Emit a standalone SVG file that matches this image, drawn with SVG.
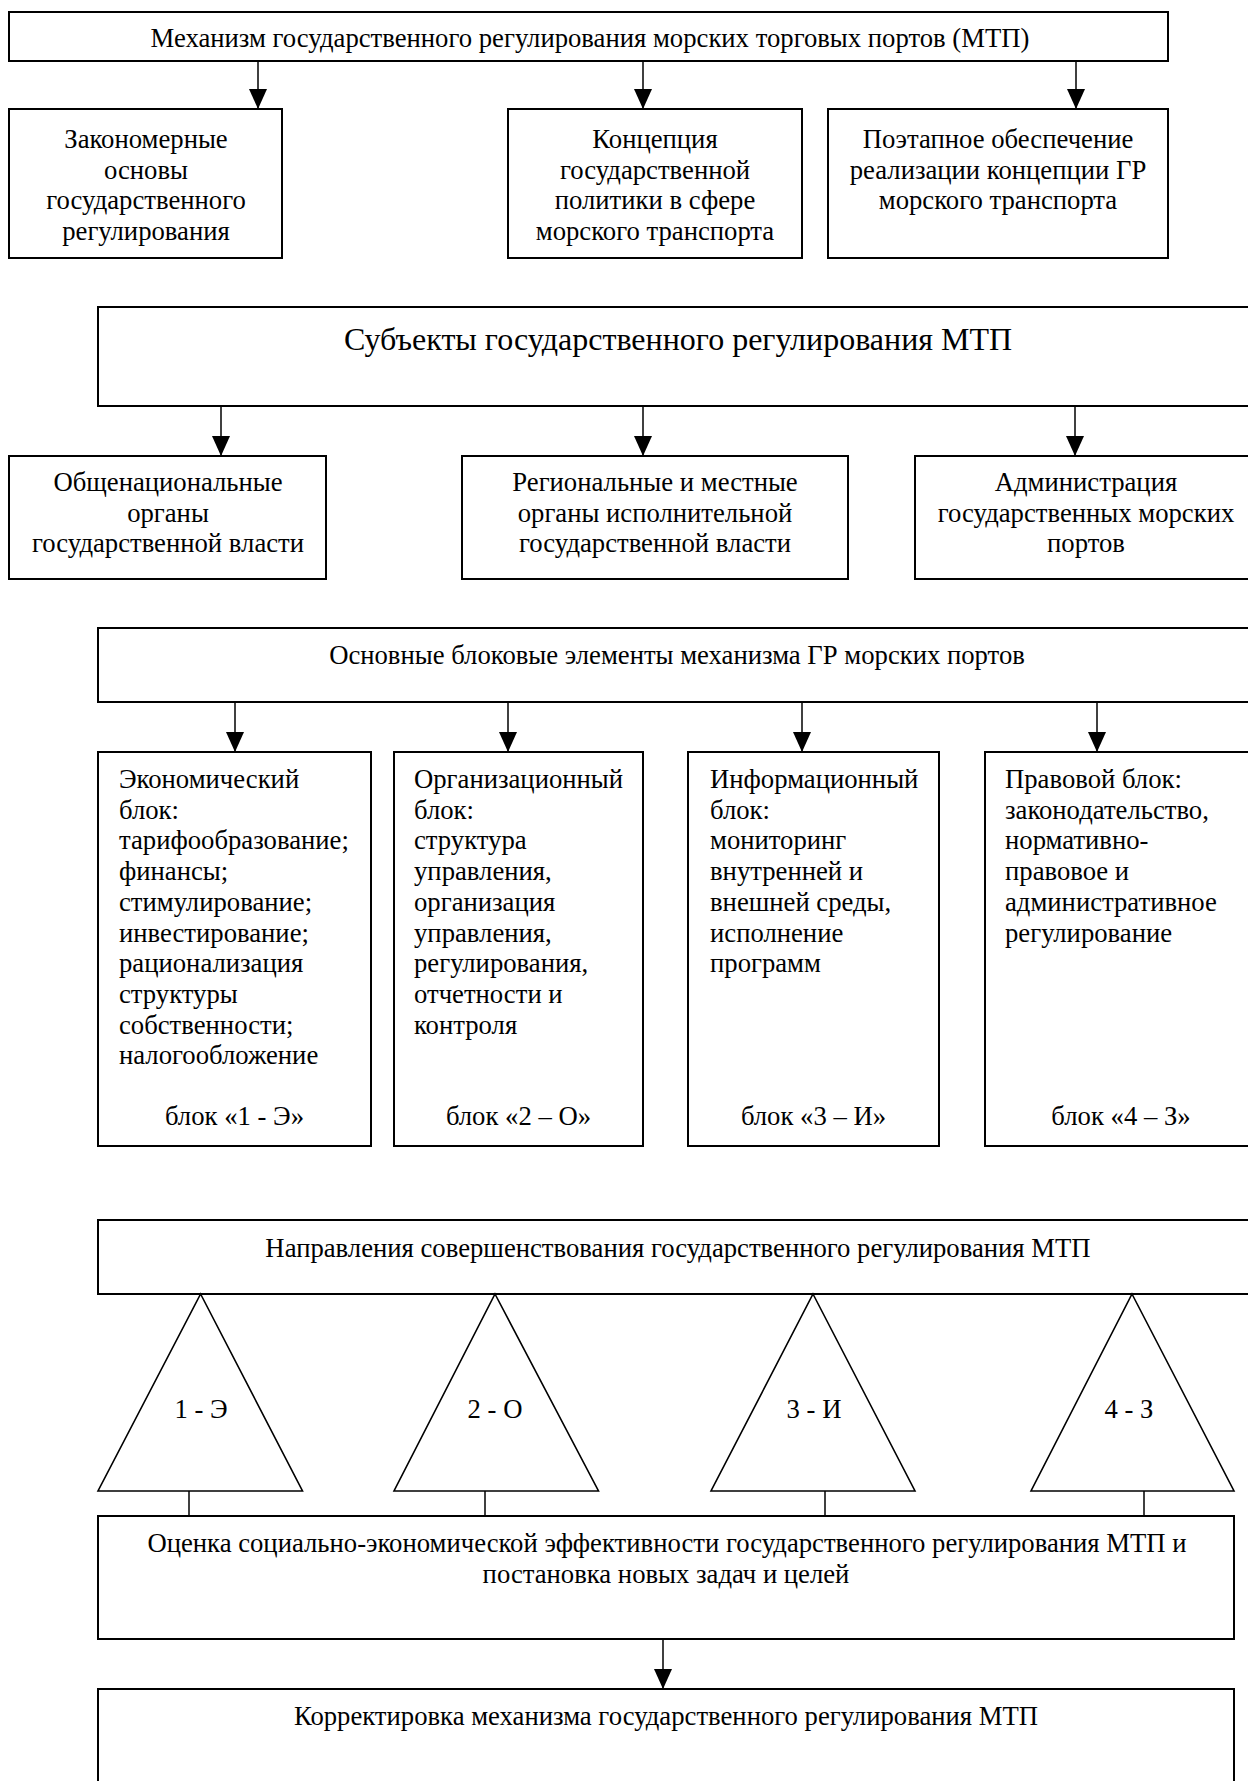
<svg xmlns="http://www.w3.org/2000/svg" width="1248" height="1781" viewBox="0 0 1248 1781">
<style>
  .box { fill: #ffffff; stroke: #000000; stroke-width: 2; }
  .tri { fill: #ffffff; stroke: #000000; stroke-width: 1.6; stroke-linejoin: miter; }
  .ln { stroke: #000000; stroke-width: 1.5; fill: none; }
  .arr { stroke: #000000; stroke-width: 1.5; fill: none; marker-end: url(#ah); }
  text { font-family: "Liberation Serif", "Times New Roman", serif; font-size: 26.7px; fill: #000000; }
  .c { text-anchor: middle; }
  .big { font-size: 32px; }
</style>
<defs>
  <marker id="ah" markerUnits="userSpaceOnUse" viewBox="0 0 20 18" markerWidth="20" markerHeight="18" refX="20" refY="9" orient="auto">
    <path d="M0,0 L20,9 L0,18 Z" fill="#000000"/>
  </marker>
</defs>
<rect width="1248" height="1781" fill="#ffffff"/>

<g id="connectors">
  <line class="arr" x1="258" y1="61" x2="258" y2="109"/>
  <line class="arr" x1="643" y1="61" x2="643" y2="109"/>
  <line class="arr" x1="1076" y1="61" x2="1076" y2="109"/>
  <line class="arr" x1="221" y1="406" x2="221" y2="456"/>
  <line class="arr" x1="643" y1="406" x2="643" y2="456"/>
  <line class="arr" x1="1075" y1="406" x2="1075" y2="456"/>
  <line class="arr" x1="235" y1="702" x2="235" y2="752"/>
  <line class="arr" x1="508" y1="702" x2="508" y2="752"/>
  <line class="arr" x1="802" y1="702" x2="802" y2="752"/>
  <line class="arr" x1="1097" y1="702" x2="1097" y2="752"/>
  <line class="ln" x1="189" y1="1491" x2="189" y2="1516"/>
  <line class="ln" x1="485" y1="1491" x2="485" y2="1516"/>
  <line class="ln" x1="825" y1="1491" x2="825" y2="1516"/>
  <line class="ln" x1="1144" y1="1491" x2="1144" y2="1516"/>
  <line class="arr" x1="663" y1="1639" x2="663" y2="1689"/>
</g>

<g id="mechanism">
  <rect class="box" x="9" y="12" width="1159" height="49"/>
  <text class="c" x="590" y="47">Механизм государственного регулирования морских торговых портов (МТП)</text>
</g>
<g id="zakonomernye">
  <rect class="box" x="9" y="109" width="273" height="149"/>
  <text class="c" x="146" y="148">Закономерные</text>
  <text class="c" x="146" y="178.5">основы</text>
  <text class="c" x="146" y="209">государственного</text>
  <text class="c" x="146" y="239.5">регулирования</text>
</g>
<g id="koncepciya">
  <rect class="box" x="508" y="109" width="294" height="149"/>
  <text class="c" x="655" y="148">Концепция</text>
  <text class="c" x="655" y="178.5">государственной</text>
  <text class="c" x="655" y="209">политики в сфере</text>
  <text class="c" x="655" y="239.5">морского транспорта</text>
</g>
<g id="poetapnoe">
  <rect class="box" x="828" y="109" width="340" height="149"/>
  <text class="c" x="998" y="148">Поэтапное обеспечение</text>
  <text class="c" x="998" y="178.5">реализации концепции ГР</text>
  <text class="c" x="998" y="209">морского транспорта</text>
</g>

<g id="subjects">
  <rect class="box" x="98" y="307" width="1162" height="99"/>
  <text class="c big" x="678" y="350">Субъекты государственного регулирования МТП</text>
</g>
<g id="obshchenac">
  <rect class="box" x="9" y="456" width="317" height="123"/>
  <text class="c" x="168" y="491">Общенациональные</text>
  <text class="c" x="168" y="521.5">органы</text>
  <text class="c" x="168" y="552">государственной власти</text>
</g>
<g id="regionalnye">
  <rect class="box" x="462" y="456" width="386" height="123"/>
  <text class="c" x="655" y="491">Региональные и местные</text>
  <text class="c" x="655" y="521.5">органы исполнительной</text>
  <text class="c" x="655" y="552">государственной власти</text>
</g>
<g id="administraciya">
  <rect class="box" x="915" y="456" width="345" height="123"/>
  <text class="c" x="1086" y="491">Администрация</text>
  <text class="c" x="1086" y="521.5">государственных морских</text>
  <text class="c" x="1086" y="552">портов</text>
</g>

<g id="osnovnye">
  <rect class="box" x="98" y="628" width="1162" height="74"/>
  <text class="c" x="677" y="664">Основные блоковые элементы механизма ГР морских портов</text>
</g>
<g id="block1">
  <rect class="box" x="98" y="752" width="273" height="394"/>
  <text x="119" y="788">Экономический</text>
  <text x="119" y="818.7">блок:</text>
  <text x="119" y="849.4">тарифообразование;</text>
  <text x="119" y="880.1">финансы;</text>
  <text x="119" y="910.8">стимулирование;</text>
  <text x="119" y="941.5">инвестирование;</text>
  <text x="119" y="972.2">рационализация</text>
  <text x="119" y="1002.9">структуры</text>
  <text x="119" y="1033.6">собственности;</text>
  <text x="119" y="1064.3">налогообложение</text>
  <text class="c" x="234.5" y="1125">блок «1 - Э»</text>
</g>
<g id="block2">
  <rect class="box" x="394" y="752" width="249" height="394"/>
  <text x="414" y="788">Организационный</text>
  <text x="414" y="818.7">блок:</text>
  <text x="414" y="849.4">структура</text>
  <text x="414" y="880.1">управления,</text>
  <text x="414" y="910.8">организация</text>
  <text x="414" y="941.5">управления,</text>
  <text x="414" y="972.2">регулирования,</text>
  <text x="414" y="1002.9">отчетности и</text>
  <text x="414" y="1033.6">контроля</text>
  <text class="c" x="518.5" y="1125">блок «2 – О»</text>
</g>
<g id="block3">
  <rect class="box" x="688" y="752" width="251" height="394"/>
  <text x="710" y="788">Информационный</text>
  <text x="710" y="818.7">блок:</text>
  <text x="710" y="849.4">мониторинг</text>
  <text x="710" y="880.1">внутренней и</text>
  <text x="710" y="910.8">внешней среды,</text>
  <text x="710" y="941.5">исполнение</text>
  <text x="710" y="972.2">программ</text>
  <text class="c" x="813.5" y="1125">блок «3 – И»</text>
</g>
<g id="block4">
  <rect class="box" x="985" y="752" width="275" height="394"/>
  <text x="1005" y="788">Правовой блок:</text>
  <text x="1005" y="818.7">законодательство,</text>
  <text x="1005" y="849.4">нормативно-</text>
  <text x="1005" y="880.1">правовое и</text>
  <text x="1005" y="910.8">административное</text>
  <text x="1005" y="941.5">регулирование</text>
  <text class="c" x="1121" y="1125">блок «4 – З»</text>
</g>

<g id="napravleniya">
  <rect class="box" x="98" y="1220" width="1162" height="74"/>
  <text class="c" x="678" y="1257">Направления совершенствования государственного регулирования МТП</text>
</g>
<g id="tri1">
  <polygon class="tri" points="200.6,1294 302.5,1491 98,1491"/>
  <text class="c" x="201" y="1418">1 - Э</text>
</g>
<g id="tri2">
  <polygon class="tri" points="495,1294 598.5,1491 394,1491"/>
  <text class="c" x="495" y="1418">2 - О</text>
</g>
<g id="tri3">
  <polygon class="tri" points="813,1294 915,1491 711,1491"/>
  <text class="c" x="814" y="1418">3 - И</text>
</g>
<g id="tri4">
  <polygon class="tri" points="1132,1294 1234,1491 1031,1491"/>
  <text class="c" x="1129" y="1418">4 - З</text>
</g>

<g id="ocenka">
  <rect class="box" x="98" y="1516" width="1136" height="123"/>
  <text class="c" x="667" y="1552">Оценка социально-экономической эффективности государственного регулирования МТП и</text>
  <text class="c" x="666" y="1583">постановка новых задач и целей</text>
</g>
<g id="korrektirovka">
  <rect class="box" x="98" y="1689" width="1136" height="110"/>
  <text class="c" x="666" y="1725">Корректировка механизма государственного регулирования МТП</text>
</g>
</svg>
